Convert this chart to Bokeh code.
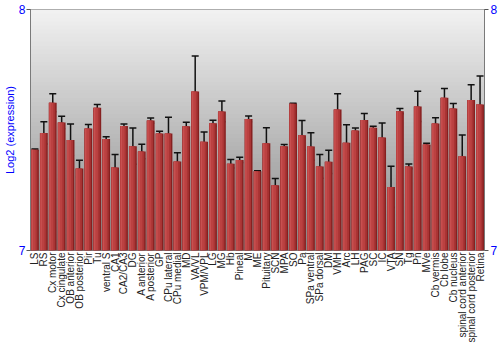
import numpy as np
from bokeh.plotting import figure
from bokeh.models import (ColumnDataSource, Whisker, TeeHead, BoxAnnotation,
                          LinearAxis, FixedTicker, Range1d)
from bokeh.transform import dodge
from bokeh.embed import file_html
from bokeh.resources import INLINE

regions = ["LS", "RS", "Cx motor", "Cx cingulate", "OB anterior", "OB posterior",
           "Pir", "Tu", "ventral S", "CA1", "CA2/CA3", "DG", "A anterior",
           "A posterior", "GP", "CPu lateral", "CPu medial", "MD", "VA/VL",
           "VPM/VPL", "LG", "MG", "Hb", "Pineal", "M", "ME", "Pituitary", "SCN",
           "MPA", "SO", "Pa", "SPa ventral", "SPa dorsal", "DM", "VMH", "Arc",
           "LH", "PAG", "SC", "IC", "VTA", "SN", "Tg", "Pn", "MVe", "Cb vermis",
           "Cb lobe", "Cb nucleus", "spinal cord anterior",
           "spinal cord posterior", "Retina"]

expression = [7.418, 7.488, 7.613, 7.531, 7.459, 7.340, 7.506, 7.592, 7.463,
              7.344, 7.517, 7.433, 7.411, 7.539, 7.485, 7.485, 7.369, 7.516,
              7.660, 7.451, 7.528, 7.577, 7.360, 7.376, 7.546, 7.329, 7.445,
              7.271, 7.433, 7.609, 7.478, 7.432, 7.349, 7.368, 7.585, 7.447,
              7.498, 7.541, 7.509, 7.469, 7.264, 7.578, 7.349, 7.598, 7.440,
              7.527, 7.634, 7.589, 7.391, 7.625, 7.606]

error = [0.003, 0.046, 0.037, 0.026, 0.066, 0.035, 0.017, 0.014, 0.009, 0.054,
         0.008, 0.075, 0.030, 0.011, 0.010, 0.068, 0.037, 0.016, 0.147, 0.041,
         0.012, 0.043, 0.018, 0.011, 0.012, 0.002, 0.064, 0.028, 0.007, 0.002,
         0.061, 0.057, 0.049, 0.048, 0.065, 0.075, 0.010, 0.027, 0.007, 0.060,
         0.086, 0.011, 0.010, 0.063, 0.005, 0.024, 0.038, 0.021, 0.088, 0.063,
         0.118]

y_ticks = [7, 8]
y_min, y_max = 7, 8

expr = np.array(expression)
err = np.array(error)
src = ColumnDataSource(dict(region=regions, value=expr,
                            upper=expr + err, lower=expr - err))

p = figure(width=500, height=350, x_range=regions,
           y_range=Range1d(y_min, y_max),
           output_backend="svg", toolbar_location=None,
           min_border_left=27, min_border_right=13,
           min_border_top=9, min_border_bottom=100)

p.background_fill_color = "white"
p.border_fill_color = "white"
p.outline_line_color = "#7a7a7a"
p.outline_line_width = 1
p.xgrid.visible = False
p.ygrid.visible = False

# vertical gray gradient in the plotting area (overlapping bands, no seams)
n_steps = 60
step = (y_max - y_min) / n_steps
for i in range(n_steps):
    b = y_min + step * i
    t = min(y_max, b + step * 2)
    frac = (i + 0.5) / n_steps
    g = int(round(135 + (242 - 135) * frac))
    p.add_layout(BoxAnnotation(bottom=b, top=t, fill_color=(g, g, g),
                               fill_alpha=1.0, line_alpha=0, level="underlay"))

# bars with a horizontal shading
p.vbar(x="region", top="value", bottom=y_min, width=0.88, source=src,
       fill_color="#862020", line_color=None)
p.vbar(x=dodge("region", -0.08, range=p.x_range), top="value", bottom=y_min,
       width=0.72, source=src, fill_color="#a93434", line_color=None)
p.vbar(x=dodge("region", -0.16, range=p.x_range), top="value", bottom=y_min,
       width=0.46, source=src, fill_color="#bb4141", line_color=None)
p.vbar(x=dodge("region", -0.3, range=p.x_range), top="value", bottom=y_min,
       width=0.16, source=src, fill_color="#c85050", line_color=None)

w = Whisker(base="region", upper="upper", lower="lower", source=src,
            line_color="#111111", line_width=1.5,
            upper_head=TeeHead(size=7, line_color="#111111", line_width=1.5),
            lower_head=TeeHead(size=7, line_color="#111111", line_width=1.5))
p.add_layout(w)

# left axis
ya = p.yaxis[0]
ya.ticker = FixedTicker(ticks=y_ticks)
ya.axis_label = "Log2 (expression)"
ya.axis_label_text_color = "blue"
ya.axis_label_text_font = "Liberation Sans"
ya.axis_label_text_font_size = "11px"
ya.axis_label_text_font_style = "normal"
ya.axis_label_standoff = 0
ya.major_label_text_color = "blue"
ya.major_label_text_font = "Liberation Sans"
ya.major_label_text_font_size = "12px"
ya.major_label_standoff = 1
ya.major_tick_in = 0
ya.major_tick_out = 4
ya.major_tick_line_color = "#555555"
ya.minor_tick_line_color = None
ya.axis_line_color = "#7a7a7a"

# right axis
ra = LinearAxis(ticker=FixedTicker(ticks=y_ticks))
ra.major_label_text_color = "blue"
ra.major_label_text_font = "Liberation Sans"
ra.major_label_text_font_size = "12px"
ra.major_label_standoff = 2
ra.major_tick_in = 0
ra.major_tick_out = 4
ra.major_tick_line_color = "#555555"
ra.minor_tick_line_color = None
ra.axis_line_color = "#7a7a7a"
p.add_layout(ra, "right")

# x axis
xa = p.xaxis[0]
xa.major_label_orientation = np.pi / 2
xa.major_label_text_font = "Liberation Sans"
xa.major_label_text_font_size = "10px"
xa.major_label_text_color = "#222222"
xa.major_label_standoff = 2
xa.major_tick_in = 0
xa.major_tick_out = 0
xa.major_tick_line_color = None
xa.minor_tick_line_color = None
xa.axis_line_color = None

p.x_range.range_padding = 0.0

open("out.html", "w").write(file_html(p, INLINE))
